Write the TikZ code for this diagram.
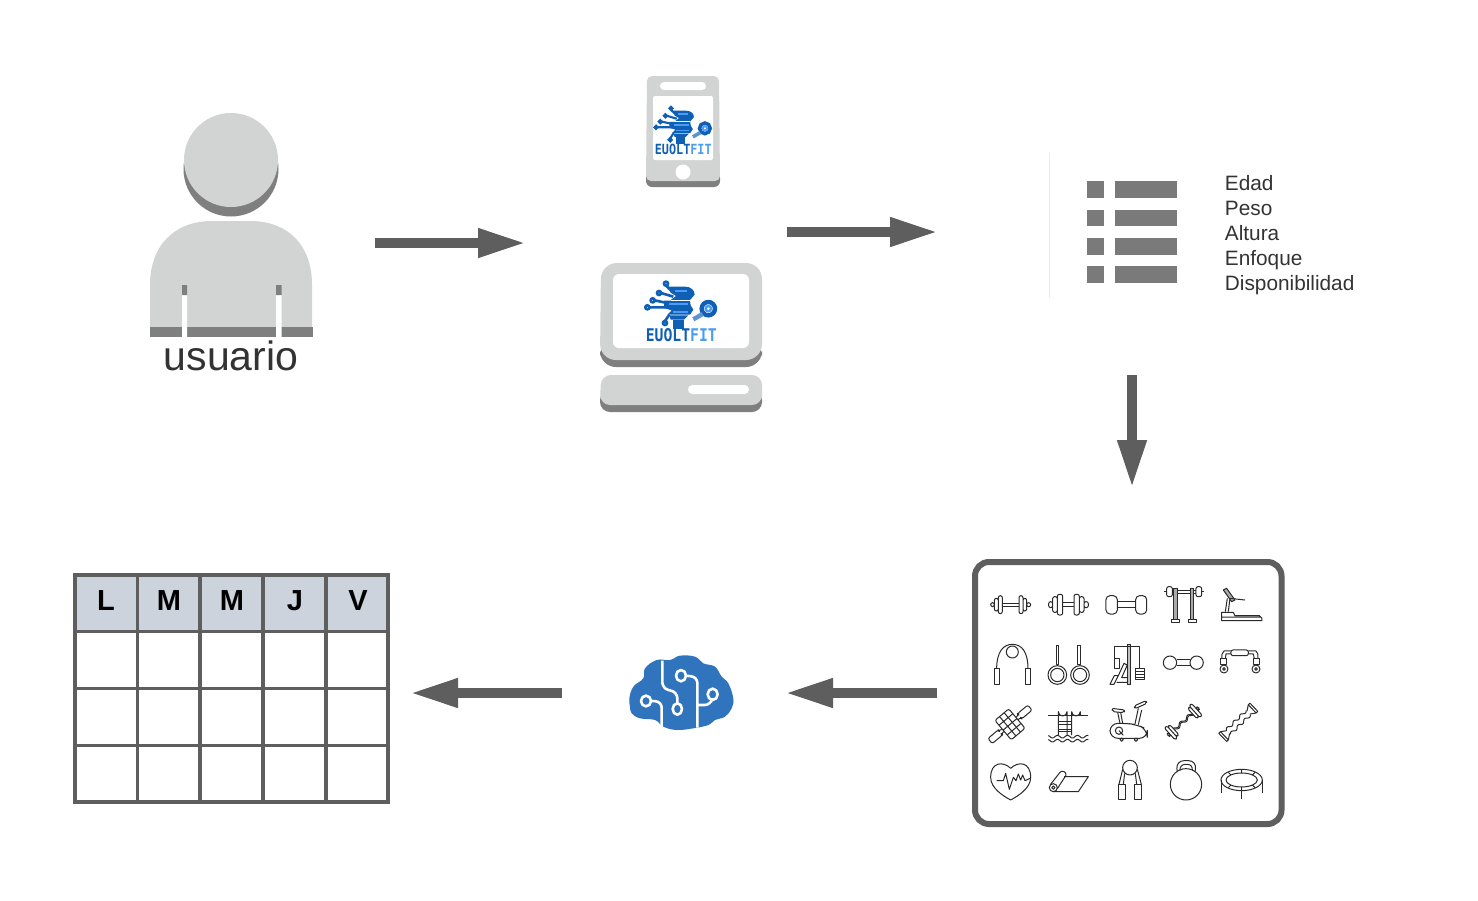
\documentclass[tikz,border=0pt]{standalone}
\usepackage{fontspec}
\setmainfont{Liberation Sans}
\newfontfamily\logofont{DejaVu Sans Mono}
\usetikzlibrary{arrows.meta}
\definecolor{lightg}{HTML}{D2D4D4}
\definecolor{darkg}{HTML}{7F7F7F}
\definecolor{arrowg}{HTML}{5E5E5E}
\definecolor{listg}{HTML}{7A7A7A}
\definecolor{textg}{HTML}{333333}
\definecolor{headg}{HTML}{CDD3DC}
\definecolor{brainb}{HTML}{3074BE}
\definecolor{logod}{HTML}{0F5FB4}
\definecolor{logol}{HTML}{4A9DF5}
\definecolor{iconc}{HTML}{2A2A2A}
\tikzset{
  flow/.style={draw=arrowg,line width=5pt,-{Triangle[length=24pt,width=13.5pt]}},
  lab/.style={anchor=base west,inner sep=0pt,text=textg,font=\fontsize{10.4pt}{12pt}\selectfont},
  dayl/.style={anchor=base,inner sep=0pt,text=black,font=\fontsize{14.5pt}{16pt}\selectfont\bfseries},
  tbl/.style={draw=arrowg,line width=1.6pt,line cap=rect},
  ic/.style={draw=iconc,line width=.5pt,line join=round},
  circuit/.style={draw=white,line width=1.3pt,line join=round},
}
\newcommand{\evologo}[4]{%
\begin{scope}[shift={(#1,#2)},scale=#3]
  \fill[logod] (82,26) -- (135,26) .. controls (152,26) and (164,36) .. (164,50) -- (150,66) -- (92,66) -- (108,54) -- (92,44) -- cycle;
  \fill[logod] (72,68) -- (150,68) -- (152,82) -- (160,95) -- (150,110) -- (82,110) -- (95,97) -- (72,90) -- cycle;
  \fill[logod] (88,112) -- (145,112) -- (132,125) -- (92,125) -- cycle;
  \fill[logod] (98,125) -- (132,125) -- (132,152) -- (98,152) -- cycle;
  \draw[logol,line width=#4*.9pt] (104,39) -- (142,39) (88,79) -- (145,79) (98,101) -- (145,101);
  \draw[white,line width=#4*.6pt] (92,67) -- (150,67);
  \draw[logod,line width=#4*1.3pt] (78,17) circle (6) (57,45) circle (6) (38,67) circle (6) (22,88) circle (6) (75,135) circle (6);
  \draw[logod,line width=#4*1.3pt] (78,23) -- (92,36) (63,45) -- (100,56) (44,67) -- (85,76) (28,88) -- (85,88) (75,129) -- (88,110);
  \draw[logod,line width=#4*2.2pt] (205,92) circle (20);
  \draw[logol,line width=#4*1.2pt] (205,92) circle (8);
  \draw[logol!70!gray,line width=#4*2.2pt] (160,124) -- (188,108);
  \node[inner sep=0pt,transform shape] (#1logotext) at (124,172) {\resizebox{106.5pt}{19.5pt}{\logofont\bfseries\textcolor{logod}{EUOLT}\textcolor{logol}{FIT}}};
  \fill[white] (88,160) -- (78,174) -- (84,174) -- (80,184) -- (90,170) -- (84,170) -- cycle;
\end{scope}}
\begin{document}
\begin{tikzpicture}[x=.5pt,y=-.5pt]
\useasboundingbox (0,0) rectangle (1478,900);
\fill[white] (0,0) rectangle (1478,900);

% user
\fill[darkg] (231,169) circle (47.5);
\fill[lightg] (231,160) circle (47);
\fill[lightg] (150,327) -- (150,285) .. controls (150,245) and (175,221) .. (212,221) -- (250,221) .. controls (288,221) and (312,245) .. (312,285) -- (312,327) -- cycle;
\fill[darkg] (150,327) rectangle (312.5,337);
\fill[white] (182,295) rectangle (187,337.5) (276,295) rectangle (281.5,337.5);
\fill[darkg] (182,285) rectangle (187,295) (276,285) rectangle (281.5,295);
\node[anchor=base,inner sep=0pt,text=textg,font=\fontsize{20.5pt}{24pt}\selectfont] (usuario) at (231,370) {usuario};

% phone
\fill[darkg,rounded corners=3pt] (646,172) rectangle (720,187);
\fill[lightg,rounded corners=2.5pt] (647,76) -- (719,76) -- (720,181) -- (646,181) -- cycle;
\fill[white,rounded corners=2pt] (660,82) rectangle (706,90);
\fill[white,rounded corners=1pt] (653,96) rectangle (713,160);
\fill[white] (683,172) circle (7.5);
\evologo{650.2}{103.8}{.2667}{.8}

% desktop
\fill[darkg,rounded corners=8pt] (600,340) rectangle (762,367);
\fill[lightg,rounded corners=8pt] (601,263) -- (762,263) -- (762,360) -- (600,360) -- cycle;
\fill[white,rounded corners=3pt] (613,274) rectangle (749,348);
\evologo{640}{278}{.3333}{1}
\fill[darkg,rounded corners=5pt] (600,390) rectangle (762,412);
\fill[lightg,rounded corners=5pt] (601,375) -- (762,375) -- (762,405) -- (600,405) -- cycle;
\fill[white,rounded corners=2.2pt] (688,385) rectangle (749,394);

% list
\draw[draw=black!8,line width=.5pt] (1049.5,153) -- (1049.5,298);
\foreach \yy/\ye in {181/198,209.5/226,237.5/254.5,266/282.5}{
  \fill[listg] (1087,\yy) rectangle (1104,\ye);
  \fill[listg] (1115,\yy) rectangle (1177,\ye);
}
\node[lab] (edad) at (1224.5,190) {Edad};
\node[lab] (peso) at (1224.5,215) {Peso};
\node[lab] (altura) at (1224.5,240) {Altura};
\node[lab] (enfoque) at (1224.5,265) {Enfoque};
\node[lab] (dispo) at (1224.5,290) {Disponibilidad};

% arrows
\coordinate (a1s) at (375,243); \coordinate (a1e) at (526,243);
\coordinate (a2s) at (787,232); \coordinate (a2e) at (938,232);
\coordinate (a3s) at (1132,375); \coordinate (a3e) at (1132,488);
\coordinate (a4s) at (937,693); \coordinate (a4e) at (785,693);
\coordinate (a5s) at (562,693); \coordinate (a5e) at (410,693);
\draw[flow] (a1s) -- (a1e);
\draw[flow] (a2s) -- (a2e);
\draw[flow] (a3s) -- (a3e);
\draw[flow] (a4s) -- (a4e);
\draw[flow] (a5s) -- (a5e);

% table
\fill[headg] (75,575) rectangle (388,631);
\foreach \xx in {75,137.5,200,263,326,388}{\draw[tbl] (\xx,575) -- (\xx,802);}
\foreach \yy in {575,631.5,688.5,745.5,802}{\draw[tbl] (75,\yy) -- (388,\yy);}
\node[dayl] (d1) at (106,610) {L};
\node[dayl] (d2) at (169,610) {M};
\node[dayl] (d3) at (232,610) {M};
\node[dayl] (d4) at (295,610) {J};
\node[dayl] (d5) at (358,610) {V};

% brain
\begin{scope}[shift={(620,645)},scale=.3333]
  \fill[brainb] plot[smooth cycle,tension=.65] coordinates {(30,185) (28,160) (40,125) (70,100) (75,70) (110,45) (150,45) (180,32) (225,35) (250,55) (285,65) (305,95) (325,115) (340,160) (335,190) (315,215) (285,225) (265,240) (220,250) (170,255) (130,245) (105,225) (60,220) (35,205)};
  \draw[circuit,rounded corners=3pt] (127,47) -- (127,130) -- (172,142) -- (172,176);
  \draw[circuit] (172,192) ellipse (14 and 17);
  \draw[circuit,rounded corners=3pt] (125,245) -- (125,170) -- (96,168);
  \draw[circuit] (78,168) ellipse (15 and 16);
  \draw[circuit] (183,92) ellipse (15 and 17);
  \draw[circuit,rounded corners=3pt] (198,92) -- (232,96) -- (232,248);
  \draw[circuit] (278,148) ellipse (15 and 17);
  \draw[circuit,rounded corners=3pt] (276,165) -- (272,180) -- (232,180);
\end{scope}

% equipment frame
\draw[draw=arrowg,line width=3pt,rounded corners=7pt] (975,562) rectangle (1281.5,824);

% rows 1-2 icons
\begin{scope}[shift={(970,555)},scale=.3333]
  % dumbbell 1
  \draw[ic,rounded corners=1pt] (85,122) rectangle (97,176) (147,122) rectangle (159,176) (73,130) rectangle (85,168) (159,130) rectangle (170,168) (62,143) rectangle (73,155) (170,143) rectangle (182,155);
  \draw[ic] (97,144) -- (147,144) (97,154) -- (147,154);
  % dumbbell 2
  \draw[ic,rounded corners=1pt] (262,118) rectangle (278,180) (312,118) rectangle (328,180) (248,125) rectangle (262,172) (328,125) rectangle (342,172) (236,140) rectangle (248,158) (342,140) rectangle (355,158);
  \draw[ic] (278,143) -- (312,143) (278,155) -- (312,155);
  % hex dumbbell
  \draw[ic,rounded corners=2pt] (408,122) rectangle (442,177) (497,122) rectangle (530,177);
  \draw[ic] (442,140) -- (497,140) (442,158) -- (497,158);
  % rack
  \draw[ic,rounded corners=1pt] (590,95) rectangle (607,125) (678,95) rectangle (695,125);
  \draw[ic] (582,110) -- (590,110) (695,110) -- (702,110) (607,105) -- (678,105) (607,114) -- (678,114);
  \draw[ic,fill=iconc!40] (612,100) rectangle (622,193) (662,100) rectangle (672,193);
  \draw[ic] (605,193) rectangle (630,203) (655,193) rectangle (680,203);
  % treadmill
  \draw[ic] (755,197) -- (755,172) -- (790,172) -- (795,182) -- (868,182) -- (876,190) -- (876,197) -- cycle (755,186) -- (870,186);
  \draw[ic] (766,170) -- (772,130) (775,170) -- (780,130);
  \draw[ic,fill=iconc!40] (760,105) -- (770,100) -- (795,135) -- (785,140) -- cycle;
  \draw[ic] (780,130) -- (825,135);
  % jump rope
  \draw[ic] (80,342) .. controls (80,290) and (100,268) .. (127,268) .. controls (155,268) and (174,290) .. (174,342);
  \draw[ic] (127,291) circle (18);
  \draw[ic] (72,342) rectangle (88,390) (165,342) rectangle (182,390);
  % rings
  \draw[ic] (262,360) circle (28) (262,360) circle (20) (330,360) circle (28) (330,360) circle (20);
  \draw[ic] (258,272) rectangle (266,330) (322,272) rectangle (330,330);
  % cable machine
  \draw[ic,fill=iconc!30] (473,268) rectangle (483,390);
  \draw[ic] (435,340) -- (435,275) -- (510,275) -- (510,340) (435,310) rectangle (450,340);
  \draw[ic] (498,340) rectangle (525,375) (498,349) -- (525,349) (498,358) -- (525,358) (498,367) -- (525,367);
  \draw[ic] (420,388) -- (433,362) -- (445,362) -- (432,388) -- cycle (445,362) -- (462,325) -- (472,330) -- (455,368) -- (473,368) (440,382) -- (473,382);
  % round dumbbell
  \draw[ic] (600,323) circle (20) (680,323) circle (20);
  \draw[ic] (620,315) -- (660,315) (620,332) -- (660,332);
  % push-up bars
  \draw[ic,rounded corners=1pt] (783,285) rectangle (835,302);
  \draw[ic] (783,288) -- (762,288) -- (756,298) -- (756,312) (783,297) -- (768,297) -- (766,312);
  \draw[ic] (835,288) -- (858,288) -- (864,298) -- (864,312) (835,297) -- (850,297) -- (853,312);
  \draw[ic] (752,312) rectangle (770,330) (850,312) rectangle (868,330);
  \draw[ic] (762,342) circle (12) (762,342) circle (4) (858,342) circle (12) (858,342) circle (4);
\end{scope}

% rows 3-4 icons
\begin{scope}[shift={(970,690)},scale=.3333]
  % ab roller
  \begin{scope}[shift={(120,103)},rotate=40]
    \draw[ic,rounded corners=1pt] (-27,-38) rectangle (27,38);
    \draw[ic] (-9,-38) -- (-9,38) (9,-38) -- (9,38) (-27,-19) -- (27,-19) (-27,0) -- (27,0) (-27,19) -- (27,19);
    \draw[ic,rounded corners=1pt] (27,-5) -- (38,-5) -- (38,-10) -- (78,-10) -- (78,10) -- (38,10) -- (38,5) -- (27,5);
    \draw[ic,rounded corners=1pt] (-27,-5) -- (-38,-5) -- (-38,-10) -- (-78,-10) -- (-78,10) -- (-38,10) -- (-38,5) -- (-27,5);
  \end{scope}
  % pool ladder
  \draw[ic] (235,77) -- (355,77);
  \draw[ic] (265,135) -- (265,65) arc (180:0:13) -- (291,135);
  \draw[ic] (305,135) -- (305,65) arc (180:0:13) -- (331,77);
  \draw[ic] (265,95) -- (305,95) (265,103) -- (305,103) (265,117) -- (305,117) (265,125) -- (305,125);
  \draw[ic] plot[smooth,domain=235:355,samples=37] (\x,{140+4*sin(12*\x)});
  \draw[ic] plot[smooth,domain=235:355,samples=37] (\x,{152+4*sin(12*\x)});
  % bike
  \draw[ic,rounded corners=4pt] (420,145) -- (420,100) -- (470,100) -- (500,104) -- (532,118) -- (532,145) -- cycle;
  \draw[ic] (447,122) circle (11) (447,122) -- (460,136);
  \draw[ic,rounded corners=1pt] (425,55) -- (465,60) -- (462,68) -- (428,65) -- cycle;
  \draw[ic] (443,67) -- (450,100) (452,67) -- (458,100);
  \draw[ic] (505,55) -- (495,102) (515,60) -- (505,104);
  \draw[ic,rounded corners=1pt] (492,48) -- (528,32) -- (531,40) -- (495,56) -- cycle;
  \draw[ic] (455,149) circle (5) (498,149) circle (5);
  % curl bar
  \begin{scope}[shift={(640,95)},rotate=42]
    \draw[ic,rounded corners=1pt] (-55,-24) rectangle (-45,24) (-45,-20) rectangle (-36,20) (45,-24) rectangle (55,24) (36,-20) rectangle (45,20) (-62,-5) rectangle (-55,5) (55,-5) rectangle (62,5);
    \draw[ic] plot[smooth,domain=-36:36,samples=29] (\x,{-2+4*sin(12*\x)});
    \draw[ic] plot[smooth,domain=-36:36,samples=29] (\x,{2+4*sin(12*\x)});
  \end{scope}
  % resistance tube
  \begin{scope}[shift={(805,97)},rotate=44]
    \draw[ic] (42,-6) -- (58,-17) -- (65,-17) -- (65,17) -- (58,17) -- (42,6);
    \draw[ic] (58,-17) -- (58,17);
    \draw[ic] (-42,-6) -- (-58,-17) -- (-65,-17) -- (-65,17) -- (-58,17) -- (-42,6);
    \draw[ic] (-58,-17) -- (-58,17);
    \draw[ic] plot[smooth,domain=-42:42,samples=33] (\x,{-9+4*sin(13*\x)});
    \draw[ic] plot[smooth,domain=-42:42,samples=33] (\x,{9+4*sin(13*\x)});
  \end{scope}
  % heart
  \draw[ic] (122,235) .. controls (100,213) and (62,215) .. (62,262) .. controls (62,295) and (100,318) .. (122,330) .. controls (144,318) and (182,295) .. (182,262) .. controls (182,215) and (144,213) .. (122,235) -- cycle;
  \draw[ic] (80,272) -- (100,272) -- (107,250) -- (118,298) -- (130,262) -- (138,272) -- (145,252) -- (152,270) -- (158,255) -- (165,272) -- (180,265);
  % mat
  \draw[ic] (250,305) -- (325,305) -- (355,260) -- (282,260);
  \draw[ic] (250,293) circle (12) (250,293) circle (5);
  \draw[ic] (241,284) -- (270,247) .. controls (276,240) and (290,245) .. (288,256) -- (262,296);
  % hand grip
  \draw[ic] (480,233) circle (22);
  \draw[ic] (458,238) -- (447,283) (502,238) -- (514,283) (464,250) -- (460,283) (496,250) -- (500,283);
  \draw[ic] (447,283) rectangle (468,330) (495,283) rectangle (515,330);
  % kettlebell
  \draw[ic] (648,283) circle (47);
  \draw[ic,rounded corners=4pt] (622,246) -- (618,212) -- (680,212) -- (675,246);
  \draw[ic,rounded corners=3pt] (630,240) -- (628,223) -- (670,223) -- (667,240);
  % trampoline
  \draw[ic] (815,270) ellipse (62 and 32) (815,270) ellipse (47 and 21);
  \draw[ic] (755,270) -- (755,310) (877,270) -- (877,310) (815,302) -- (815,328);
  \draw[ic] (815,238) -- (815,249) (815,291) -- (815,302) (775,247) -- (783,255) (855,247) -- (847,255) (775,293) -- (783,285) (855,293) -- (847,285);
\end{scope}
\end{tikzpicture}
\end{document}
